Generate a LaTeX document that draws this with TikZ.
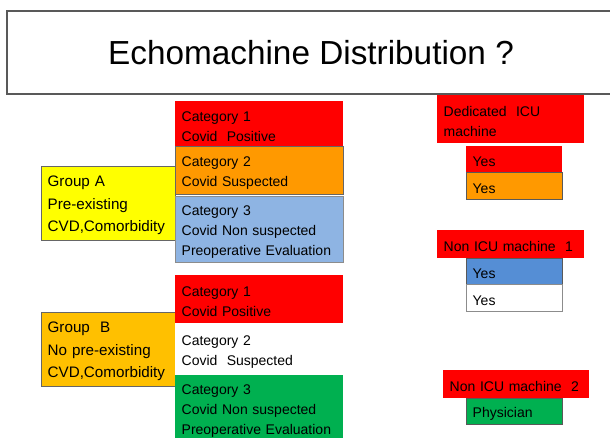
\documentclass[tikz,border=0pt]{standalone}
\usepackage{fontspec}
\setmainfont{Liberation Sans}
\usetikzlibrary{positioning}

\definecolor{catred}{HTML}{FF0000}
\definecolor{catorange}{HTML}{FF9900}
\definecolor{catsky}{HTML}{8EB4E3}
\definecolor{catgreen}{HTML}{00B050}
\definecolor{grpyellow}{HTML}{FFFF00}
\definecolor{grpgold}{HTML}{FFC000}
\definecolor{yesblue}{HTML}{558ED5}

\begin{document}
\begin{tikzpicture}[
    x=0.75pt, y=-0.75pt,
    node distance=0pt,
    box/.style={rectangle, outer sep=0pt, inner xsep=5pt, inner ysep=2pt, align=left, font={\fontsize{10.5}{15}\selectfont}, execute at begin node={\rule{0pt}{11.5pt}}},
    catbox/.style={box, text width=116pt},
    groupbox/.style={box, text width=90.5pt, minimum height=55.5pt, font={\fontsize{11.4}{16.8}\selectfont}},
    machbox/.style={box, text width=100pt, fill=catred, anchor=north west},
    yesbox/.style={box, text width=62pt, minimum height=20pt}
]
\useasboundingbox (0,0) rectangle (610,438);

% title
\node[draw=black!65, line width=0.8pt, minimum width=456pt, minimum height=62.25pt, font={\fontsize{25}{30}\selectfont}] (title) at (311,52.5) {Echomachine Distribution ?};

% group A
\node[groupbox, fill=grpyellow, draw=black!60] (groupa) at (108,203) {Group A\\Pre-existing\\CVD,Comorbidity};
\node[catbox, fill=catred, minimum height=33.75pt, anchor=north west] (cat1a) at (175,101) {Category 1\\Covid\ \ Positive};
\node[catbox, fill=catorange, draw=black!60, minimum height=36pt, below=0pt of cat1a] (cat2a) {Category 2\\Covid Suspected};
\node[catbox, fill=catsky, draw=black!45, minimum height=50pt, below=1.5pt of cat2a] (cat3a) {Category 3\\Covid Non suspected\\Preoperative Evaluation};

% group B
\node[groupbox, fill=grpgold, draw=black!60] (groupb) at (108,349) {Group\ \ B\\No pre-existing\\CVD,Comorbidity};
\node[catbox, fill=catred, minimum height=36pt, anchor=north west] (cat1b) at (175,275) {Category 1\\Covid Positive};
\node[catbox, fill=white, minimum height=39pt, below=0pt of cat1b] (cat2b) {Category 2\\Covid\ \ Suspected};
\node[catbox, fill=catgreen, minimum height=49.5pt, below=0pt of cat2b] (cat3b) {Category 3\\Covid Non suspected\\Preoperative Evaluation};

% machines
\node[machbox, minimum height=36pt] (icu) at (437,95) {Dedicated\ \ ICU\\machine};
\node[yesbox, fill=catred, anchor=north west] (yes1) at (466,146) {Yes};
\node[yesbox, fill=catorange, draw=black!65, below=0pt of yes1] (yes2) {Yes};

\node[machbox, minimum height=21pt] (nonicu1) at (437,230) {Non ICU machine\ \ 1};
\node[yesbox, fill=yesblue, draw=black!65, anchor=north west] (yes3) at (466,258) {Yes};
\node[yesbox, fill=white, draw=black!45, below=0pt of yes3] (yes4) {Yes};

\node[machbox, text width=99.5pt, minimum height=21pt] (nonicu2) at (443,370) {Non ICU machine\ \ 2};
\node[yesbox, fill=catgreen, draw=black!65, anchor=north west] (phys) at (466,398) {Physician};

\end{tikzpicture}
\end{document}
